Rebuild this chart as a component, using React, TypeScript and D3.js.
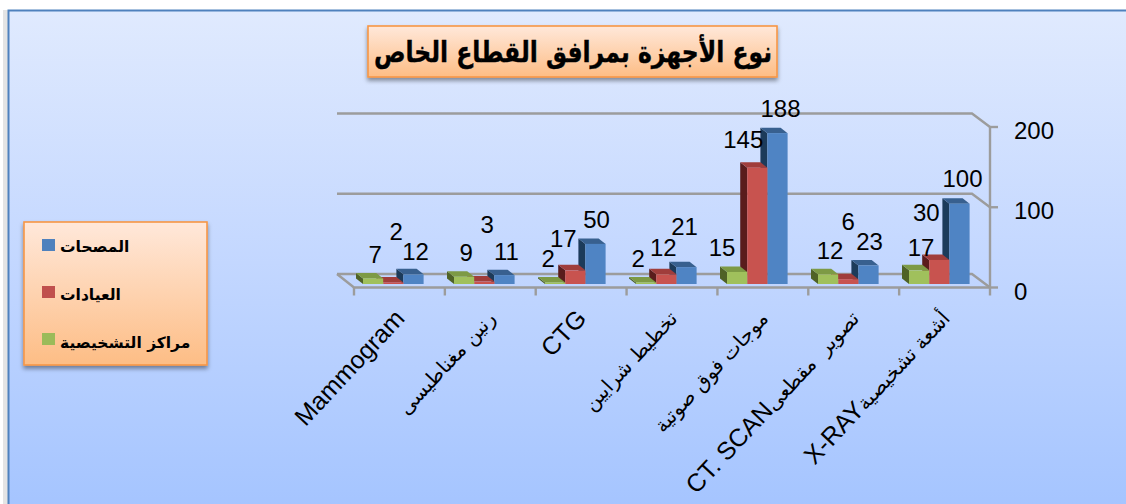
import React from "react";
import * as d3 from "d3";

const categoryLatin = ["Mammogram", "", "CTG", "", "", "CT. SCAN", "X-RAY"];
const categoryArabic = ["", "رنين مغناطيسى", "", "تخطيط شرايين", "موجات فوق صوتية", "تصوير\u00A0\u00A0مقطعى", "أشعة تشخيصية"];
const centers = [7, 9, 2, 2, 15, 12, 17];
const clinics = [2, 3, 17, 12, 145, 6, 30];
const hospitals = [12, 11, 50, 21, 188, 23, 100];
const yTicks = [0, 100, 200];
const seriesNames = ["المصحات", "العيادات", "مراكز التشخيصية"];
const titleText = "نوع الأجهزة بمرافق القطاع الخاص";

// label placement relative to the bar top (pixels)
const nudgeCenters: [number, number][] = [[2, -24], [2, -24], [-7, -24], [-8, -24], [-15, -25], [2, -24], [2, -23]];
const nudgeClinics: [number, number][] = [[3, -51], [3, -57], [-12, -32], [-3, -27], [-14, -28], [0, -58], [-13, -48]];
const nudgeHospitals: [number, number][] = [[2, -23], [2, -24], [1, -25], [-2, -41], [3, -25], [1, -24], [3, -25]];

const W = 1126, H = 504;
const barW = 20.2, depthX = 7, depthY = 5.5;

const x = d3.scaleLinear().domain([0, 6]).range([363, 909]);
const yBar = d3.scaleLinear().domain([0, 200]).range([284, 123.5]);
const yFront = d3.scaleLinear().domain([0, 200]).range([287.5, 127]);
const yBack = d3.scaleLinear().domain([0, 200]).range([274, 113.5]);
const xTick = d3.scaleLinear().domain([0, 7]).range([354, 990]);

const colours = [
  { front: "#a0c05c", top: "#7d9a44", side: "#4f6228", id: "g", index: 0, data: centers, nudge: nudgeCenters },
  { front: "#c8524f", top: "#a03c3a", side: "#5a1f1e", id: "r", index: 1, data: clinics, nudge: nudgeClinics },
  { front: "#4f84c4", top: "#37608f", side: "#1f3a5a", id: "b", index: 2, data: hospitals, nudge: nudgeHospitals },
];
const legendColours = ["#4f81bd", "#c0504d", "#9bbb59"];

const latin = "'Liberation Sans', Arial, 'DejaVu Sans'";
const arabic = "'DejaVu Sans'";

export default function App() {
  const line = d3.line();
  return (
    <svg width={W} height={H} viewBox={`0 0 ${W} ${H}`} style={{ position: "absolute", left: 0, top: 0, display: "block" }}>
      <defs>
        <linearGradient id="bg" x1="0" y1="0" x2="0" y2="1">
          <stop offset="0" stopColor="#e0eafe" />
          <stop offset="0.5" stopColor="#c3d7ff" />
          <stop offset="1" stopColor="#a4c4ff" />
        </linearGradient>
        <linearGradient id="box" x1="0" y1="0" x2="0" y2="1">
          <stop offset="0" stopColor="#ffe8da" />
          <stop offset="1" stopColor="#fdbd85" />
        </linearGradient>
        <filter id="shadow" x="-5%" y="-10%" width="110%" height="125%">
          <feDropShadow dx="0" dy="3" stdDeviation="2" floodColor="#000" floodOpacity="0.4" />
        </filter>
        <filter id="soft" x="-5%" y="-5%" width="110%" height="110%">
          <feGaussianBlur stdDeviation="0.45" />
        </filter>
      </defs>

      <rect x={0} y={0} width={W} height={H} fill="#ffffff" />
      <rect x={3} y={10} width={6} height={H} fill="#d9d9d9" opacity={0.7} />
      <rect x={8.5} y={10.5} width={W} height={H} fill="url(#bg)" stroke="#4f81bd" strokeWidth={2} />

      {/* walls: gridlines */}
      <g fill="none" stroke="#9c9c9c" strokeWidth={2.4} filter="url(#soft)">
        {yTicks.map((t) => (
          <path key={t} d={line([[337, yBack(t)], [972, yBack(t)], [990, yFront(t)]])!} />
        ))}
        <path d={line([[337, yBack(0)], [354, yFront(0)], [990, yFront(0)]])!} />
        <path d={line([[990, yFront(0)], [990, yFront(200)]])!} />
        {yTicks.map((t) => (
          <path key={t} d={line([[990, yFront(t)], [998, yFront(t)]])!} />
        ))}
        {d3.range(8).map((i) => (
          <path key={i} d={line([[xTick(i), yFront(0)], [xTick(i), yFront(0) + 8]])!} />
        ))}
      </g>

      {/* bars: drawn right to left so a nearer bar hides its neighbour's side */}
      <g filter="url(#soft)">
        {categoryLatin.map((_, i) =>
          [...colours].reverse().map((s) => {
            const x0 = x(i) + s.index * barW;
            const top = yBar(s.data[i]);
            const bottom = yBar(0);
            return (
              <g key={s.id + i}>
                <path fill={s.side} d={line([[x0, top], [x0 - depthX, top - depthY], [x0 - depthX, bottom - depthY], [x0, bottom]])! + "Z"} />
                <path fill={s.top} d={line([[x0, top], [x0 - depthX, top - depthY], [x0 + barW - depthX, top - depthY], [x0 + barW, top]])! + "Z"} />
                <rect x={x0} y={top} width={barW} height={bottom - top} fill={s.front} />
              </g>
            );
          })
        )}
      </g>

      {/* data labels */}
      <g fontFamily={latin} fontSize={24} fill="#000" textAnchor="middle">
        {colours.map((s) =>
          s.data.map((v, i) => (
            <text key={s.id + i} x={x(i) + (s.index + 0.5) * barW + s.nudge[i][0]} y={yBar(v) + s.nudge[i][1]} dy="0.36em">
              {v}
            </text>
          ))
        )}
      </g>

      {/* y axis labels */}
      <g fontFamily={latin} fontSize={24} fill="#000">
        {yTicks.map((t) => (
          <text key={t} x={1014} y={yFront(t) + 3.5} dy="0.36em">{t}</text>
        ))}
      </g>

      {/* category labels */}
      <g fill="#000" textAnchor="end">
        {categoryLatin.map((c, i) => (
          <text key={i} transform={`translate(${xTick(i) + 52},${yFront(0) + 32}) rotate(-47)`}>
            {c && <tspan fontFamily={latin} fontSize={25}>{c}</tspan>}
            {categoryArabic[i] && <tspan fontFamily={arabic} fontSize={20}>{categoryArabic[i]}</tspan>}
          </text>
        ))}
      </g>

      {/* title */}
      <rect x={368} y={26} width={409} height={51} fill="url(#box)" stroke="#f79646" strokeWidth={1.6} filter="url(#shadow)" />
      <text transform="translate(573,62) scale(0.81,1)" textAnchor="middle" fontFamily={arabic} fontWeight={700} fontSize={29} fill="#000" stroke="#000" strokeWidth={0.4} direction="rtl">{titleText}</text>

      {/* legend */}
      <rect x={24} y={222} width={183} height={143} fill="url(#box)" stroke="#f79646" strokeWidth={1.6} filter="url(#shadow)" />
      {seriesNames.map((n, i) => (
        <g key={n}>
          <rect x={42} y={239 + i * 47} width={13} height={12} fill={legendColours[i]} />
          <text x={60} y={252 + i * 48} fontFamily={arabic} fontWeight={700} fontSize={15.5} fill="#000">{n}</text>
        </g>
      ))}
    </svg>
  );
}
